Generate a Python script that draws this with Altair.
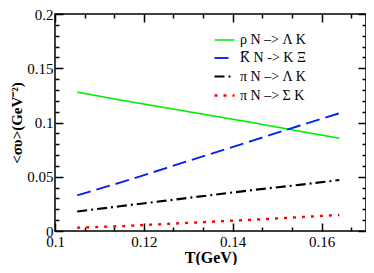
import altair as alt
import pandas as pd

T = [0.105, 0.115, 0.125, 0.135, 0.145, 0.155, 0.164]
rho_LK = [0.128, 0.1205, 0.1135, 0.1065, 0.0995, 0.092, 0.0855]
kbar_KXi = [0.0328, 0.045, 0.058, 0.071, 0.084, 0.097, 0.1085]
pi_LK = [0.018, 0.023, 0.028, 0.033, 0.038, 0.0425, 0.047]
pi_SK = [0.003, 0.0045, 0.0065, 0.0085, 0.0105, 0.0127, 0.0148]

labels = ["ρ N –> Λ K", "K̅ N -> K Ξ", "π N –> Λ K", "π N –> Σ K"]
colors = ["#00ee00", "#0022ee", "#000000", "#ff0000"]
dashes = [[1, 0], [14, 6], [10, 4, 2, 4], [3, 6]]
widths = [1.6, 2.4, 2.4, 2.8]

x_major = [0.1, 0.12, 0.14, 0.16]
x_minor = [0.10667, 0.11333, 0.12667, 0.13333, 0.14667, 0.15333, 0.16667]
y_major = [0, 0.05, 0.1, 0.15, 0.2]
y_minor = [0.01, 0.02, 0.03, 0.04, 0.06, 0.07, 0.08, 0.09, 0.11, 0.12, 0.13,
           0.14, 0.16, 0.17, 0.18, 0.19]

rows = []
for lab, vals in zip(labels, [rho_LK, kbar_KXi, pi_LK, pi_SK]):
    for t, v in zip(T, vals):
        rows.append({"T": t, "v": v, "s": lab})
df = pd.DataFrame(rows)

W, H = 311, 217
FONT = "Times New Roman"
xs = alt.Scale(domain=[0.1, 0.17], nice=False, zero=False)
ys = alt.Scale(domain=[0, 0.2], nice=False, zero=False)

lines = alt.Chart(df).mark_line().encode(
    x=alt.X("T:Q", scale=xs, axis=alt.Axis(
        values=x_major, format="~g", ticks=False, domain=False, grid=False,
        labelFlush=False, labelOverlap=False,
        title="T(GeV)", labelFont=FONT, labelFontSize=15, labelColor="black",
        labelPadding=3, titleFont=FONT, titleFontSize=16, titleFontWeight="bold",
        titleColor="black", titlePadding=0)),
    y=alt.Y("v:Q", scale=ys, axis=alt.Axis(
        values=y_major, format="~g", ticks=False, domain=False, grid=False,
        labelFlush=False, labelOverlap=False,
        title="<συ>(GeV⁻²)", labelFont=FONT, labelFontSize=15, labelColor="black",
        labelPadding=2, titleFont=FONT, titleFontSize=15, titleFontWeight="bold",
        titleColor="black", titlePadding=2)),
    color=alt.Color("s:N", sort=labels, scale=alt.Scale(domain=labels, range=colors),
                    title=None),
    strokeDash=alt.StrokeDash("s:N", sort=labels,
                              scale=alt.Scale(domain=labels, range=dashes), title=None),
    strokeWidth=alt.StrokeWidth("s:N", sort=labels,
                                scale=alt.Scale(domain=labels, range=widths), title=None),
)


def ax_layer(xaxis, yaxis):
    return alt.Chart(df).mark_point(opacity=0).encode(
        x=alt.X("T:Q", scale=xs, axis=xaxis),
        y=alt.Y("v:Q", scale=ys, axis=yaxis),
    )


def tick_axis(orient, vals, size, offset):
    return alt.Axis(orient=orient, values=vals, tickSize=size, offset=offset,
                    labels=False, domain=False, grid=False, title=None,
                    tickColor="black", tickWidth=1.5)


layers = [
    lines,
    ax_layer(tick_axis("top", x_major, 8, -H), tick_axis("right", y_major, 8, -W)),
    ax_layer(tick_axis("top", x_minor, 4, -H), tick_axis("right", y_minor, 4, -W)),
    ax_layer(tick_axis("bottom", x_major, 8, -H), tick_axis("left", y_major, 8, -W)),
    ax_layer(tick_axis("bottom", x_minor, 4, -H), tick_axis("left", y_minor, 4, -W)),
]

chart = alt.layer(*layers).resolve_scale(
    x="independent", y="independent"
).properties(
    width=W, height=H,
    autosize=alt.AutoSizeParams(type="none"),
    padding={"left": 47, "top": 6, "right": 0, "bottom": 34},
).configure(
    font=FONT
).configure_view(
    stroke="black", strokeWidth=1.5
).configure_legend(
    orient="none", legendX=158, legendY=15, labelFont=FONT, labelFontSize=14,
    labelColor="black", symbolType="stroke", symbolSize=400, rowPadding=0,
    labelOffset=4, symbolStrokeWidth=2.4,
)

chart.save("out.html", embed_options={"renderer": "svg", "actions": False})
